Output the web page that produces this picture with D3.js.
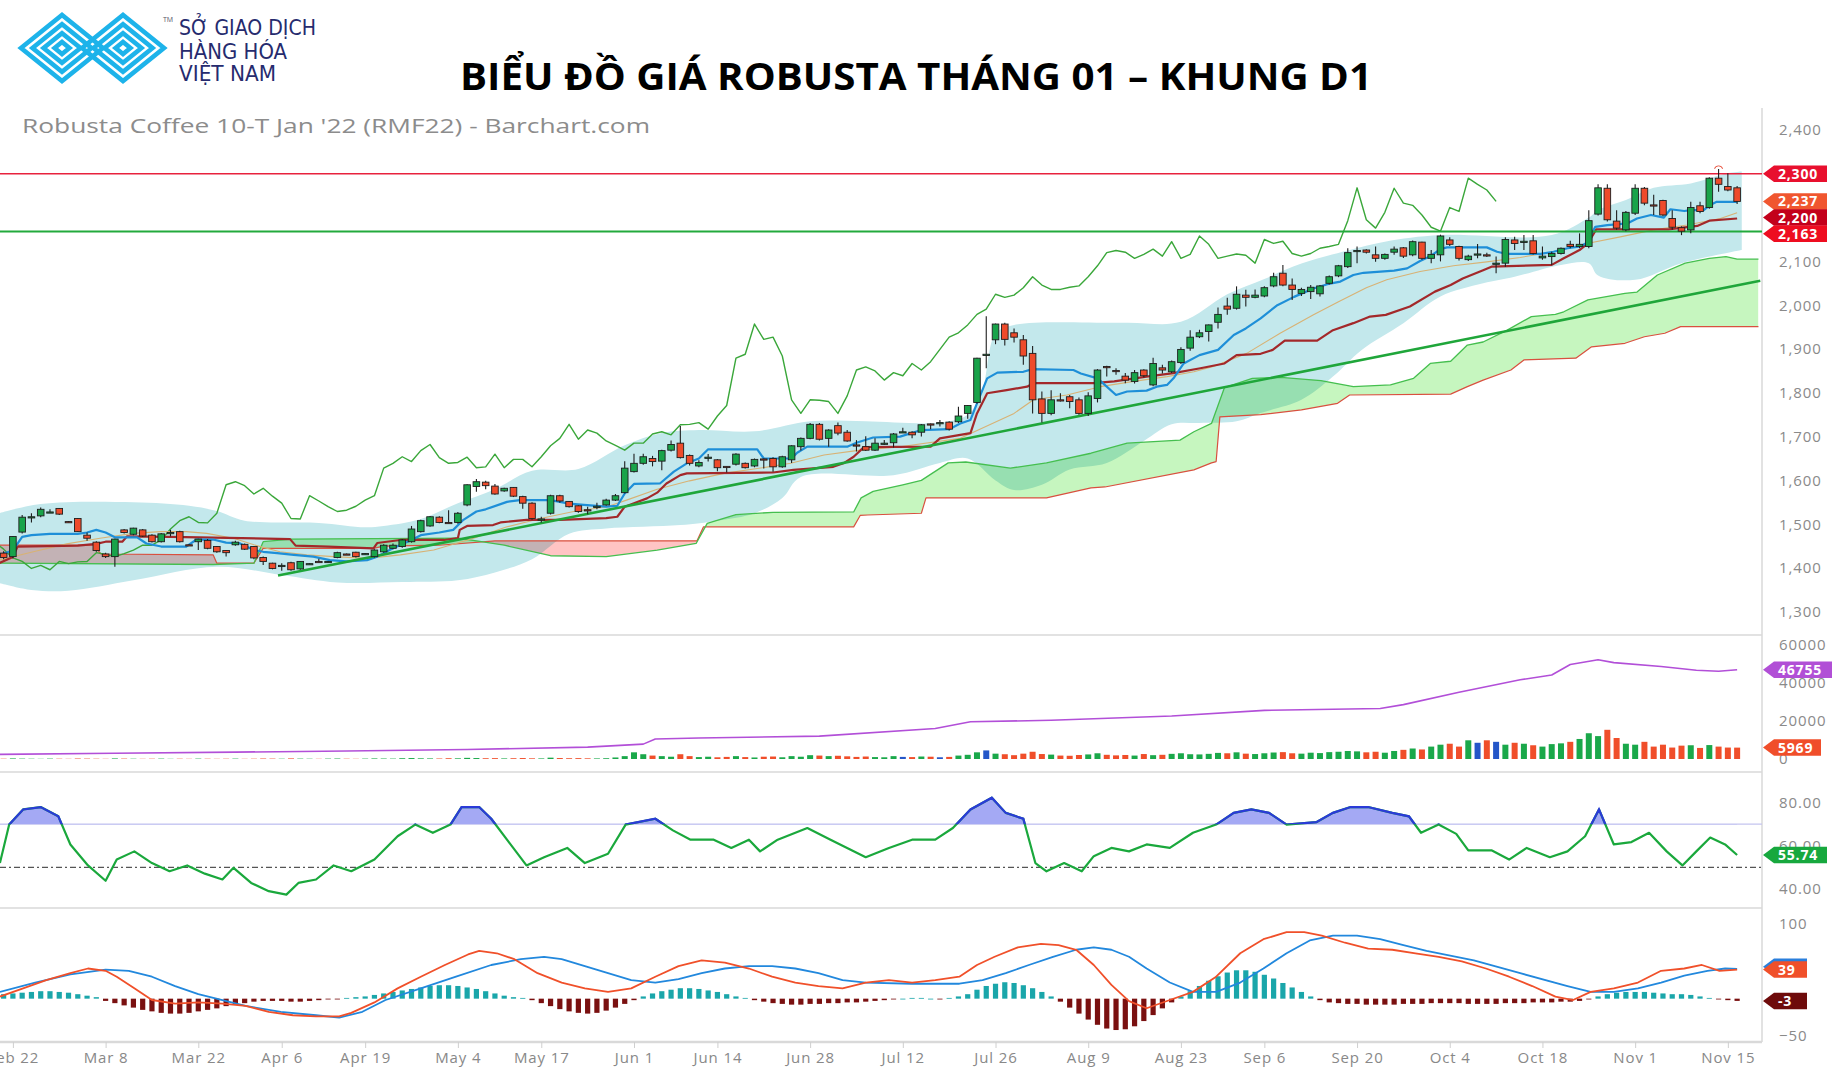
<!DOCTYPE html>
<html><head><meta charset="utf-8">
<script src="https://cdn.jsdelivr.net/npm/d3@7"></script>
<style>html,body{margin:0;padding:0;background:#fff;}svg{display:block;}</style>
</head><body>
<svg id="c" width="1834" height="1070"></svg>
<script>
// ---------------- DATA ----------------
const firstIndex = -1; // index of first candle (trading days from Feb 22)
const tickLabels = ["Feb 22","Mar 8","Mar 22","Apr 6","Apr 19","May 4","May 17","Jun 1","Jun 14","Jun 28","Jul 12","Jul 26","Aug 9","Aug 23","Sep 6","Sep 20","Oct 4","Oct 18","Nov 1","Nov 15"];
const tickIdx = [0,10,20,29,38,48,57,67,76,86,96,106,116,126,135,145,155,165,175,185];
// 2,200 and 2,300 sit under the price tags in the reference
const priceTicks = [1300,1400,1500,1600,1700,1800,1900,2000,2100,2400];

const open = [1434,1426,1482,1516,1519,1527,1536,1506,1513,1475,
1459,1432,1426,1487,1477,1487,1475,1460,1480,1483,
1453,1460,1463,1449,1440,1453,1454,1449,1424,1411,
1405,1412,1398,1409,1415,1414,1424,1432,1436,1432,
1426,1437,1445,1449,1460,1483,1496,1516,1504,1504,
1544,1586,1596,1587,1576,1584,1563,1548,1511,1525,
1565,1552,1542,1533,1540,1544,1555,1572,1620,1639,
1650,1644,1669,1685,1657,1633,1652,1647,1632,1637,
1639,1633,1649,1650,1631,1647,1677,1696,1728,1696,
1725,1710,1681,1677,1669,1684,1686,1711,1710,1710,
1729,1732,1733,1734,1753,1778,1888,1921,1957,1937,
1921,1890,1786,1753,1784,1791,1784,1753,1787,1860,
1851,1838,1826,1852,1818,1857,1848,1869,1902,1928,
1940,1961,1998,1993,2023,2018,2021,2044,2073,2046,
2027,2031,2026,2050,2067,2088,2124,2126,2115,2107,
2121,2131,2115,2144,2107,2115,2149,2134,2104,2117,
2115,2096,2096,2149,2145,2147,2108,2111,2118,2139,
2134,2134,2208,2267,2192,2172,2210,2267,2229,2239,
2198,2177,2172,2227,2223,2290,2271,2268];
const high = [1438,1473,1521,1525,1538,1534,1537,1507,1514,1481,
1461,1435,1467,1489,1492,1489,1477,1480,1487,1485,
1455,1467,1466,1450,1441,1462,1456,1450,1426,1412,
1411,1414,1416,1411,1421,1416,1437,1433,1437,1434,
1443,1454,1456,1466,1496,1510,1519,1518,1532,1528,
1591,1603,1599,1592,1583,1585,1565,1550,1517,1567,
1567,1553,1543,1540,1549,1558,1569,1644,1661,1661,
1656,1670,1691,1724,1659,1646,1660,1649,1632,1662,
1641,1650,1650,1653,1656,1680,1698,1731,1731,1717,
1732,1715,1692,1701,1696,1692,1708,1720,1712,1729,
1730,1738,1735,1768,1772,1880,1975,1958,1960,1947,
1932,1907,1803,1806,1799,1795,1789,1801,1854,1862,
1856,1845,1852,1854,1880,1864,1874,1904,1943,1944,
1956,1995,2017,2043,2035,2036,2043,2074,2092,2061,
2040,2046,2046,2068,2092,2130,2134,2128,2134,2118,
2134,2133,2148,2145,2126,2161,2155,2136,2115,2140,
2120,2111,2155,2156,2160,2160,2134,2122,2132,2147,
2164,2217,2276,2276,2217,2215,2276,2270,2252,2241,
2217,2180,2236,2236,2292,2311,2301,2272];
const low = [1420,1422,1479,1504,1516,1526,1521,1504,1482,1462,
1437,1423,1403,1479,1475,1471,1458,1458,1472,1458,
1451,1441,1443,1435,1426,1451,1441,1420,1407,1397,
1394,1394,1396,1408,1413,1412,1422,1430,1424,1431,
1424,1435,1443,1446,1458,1481,1494,1502,1502,1501,
1541,1574,1580,1567,1574,1562,1535,1510,1504,1522,
1549,1538,1526,1523,1534,1542,1553,1570,1618,1636,
1632,1623,1666,1650,1634,1630,1643,1621,1618,1634,
1627,1630,1627,1620,1629,1640,1668,1694,1691,1677,
1703,1688,1666,1667,1667,1681,1675,1709,1696,1700,
1717,1723,1714,1731,1741,1775,1856,1911,1908,1915,
1864,1753,1732,1749,1780,1765,1750,1747,1778,1837,
1841,1822,1821,1835,1815,1844,1845,1866,1896,1925,
1917,1947,1978,1990,1997,2016,2018,2041,2043,2012,
2021,2014,2020,2047,2064,2085,2096,2118,2099,2104,
2115,2108,2112,2104,2096,2100,2135,2102,2101,2107,
2110,2073,2088,2126,2126,2116,2104,2092,2116,2130,
2130,2130,2205,2191,2172,2169,2206,2228,2206,2203,
2172,2160,2164,2210,2220,2259,2260,2231];
const close = [1424,1472,1516,1517,1534,1528,1523,1505,1483,1468,
1440,1426,1466,1481,1491,1473,1460,1478,1481,1460,
1452,1466,1445,1437,1435,1459,1443,1423,1415,1399,
1406,1396,1415,1410,1414,1415,1435,1431,1426,1433,
1441,1452,1452,1464,1489,1508,1517,1504,1503,1525,
1590,1597,1588,1569,1582,1564,1548,1513,1512,1565,
1553,1540,1529,1532,1541,1555,1565,1628,1639,1654,
1643,1668,1682,1652,1639,1641,1653,1629,1631,1660,
1629,1648,1648,1631,1654,1679,1696,1728,1694,1715,
1708,1690,1680,1669,1685,1685,1706,1711,1704,1727,
1728,1732,1717,1747,1771,1879,1888,1957,1922,1927,
1884,1784,1753,1784,1783,1780,1753,1793,1852,1859,
1850,1829,1846,1839,1867,1852,1871,1899,1927,1937,
1955,1979,1991,2025,2018,2023,2040,2065,2046,2036,
2036,2041,2044,2065,2090,2120,2125,2121,2107,2116,
2128,2112,2145,2107,2116,2158,2139,2107,2112,2117,
2114,2096,2150,2141,2146,2118,2112,2118,2130,2134,
2139,2193,2268,2195,2176,2212,2267,2233,2228,2206,
2178,2169,2223,2214,2290,2276,2263,2237];

// Ichimoku lines [index, price]
const tenkan = [[-1.5,1430],[0,1440],[1,1471],[2,1475],[4,1478],[7,1478],[8,1481],[9,1487],[10,1481],[11,1470],[13.4,1470],[14.4,1456],[16,1449],[18.7,1449],[19.8,1465],[21.6,1465],[23,1458],[24.5,1456],[26,1441],[27,1437],[28.5,1434],[30.3,1430],[32.4,1426],[34.2,1418],[36,1415],[38.2,1418],[39.3,1426],[41,1445],[43,1464],[44,1475],[46,1481],[47.5,1487],[48.6,1510],[50,1529],[51,1534],[53.3,1551],[54.7,1555],[58,1555],[59,1551],[60,1547],[61.6,1544],[64,1540],[65.2,1542],[66,1570],[67,1592],[69.8,1593],[71.3,1620],[72.7,1639],[74,1650],[75,1671],[80.3,1671],[81,1650],[84,1650],[84.6,1663],[85.7,1677],[90,1677],[91,1686],[92.8,1698],[95.7,1700],[98,1715],[101,1717],[102.2,1730],[103.3,1738],[104,1776],[105.1,1833],[106.2,1846],[109,1848],[110,1854],[114.4,1852],[115.2,1844],[117,1833],[118,1814],[119,1795],[120.2,1803],[122.3,1805],[123.4,1814],[124.5,1818],[125.2,1833],[126.3,1867],[128,1886],[130,1898],[131.7,1932],[133,1947],[134.6,1970],[136.4,2000],[138.2,2019],[140.3,2038],[141.8,2048],[143.2,2054],[144.6,2069],[145.7,2074],[149,2079],[150.4,2084],[151.8,2101],[152.9,2112],[154,2128],[154.7,2132],[159,2132],[160.1,2122],[161.2,2117],[164.8,2117],[166.2,2122],[167.7,2130],[169.1,2134],[169.8,2143],[170.7,2179],[172,2183],[174.2,2187],[175.2,2198],[176.7,2206],[178.1,2200],[178.8,2219],[180.3,2215],[181,2217],[182.4,2217],[183.1,2229],[183.8,2236],[186,2236]];
const kijun = [[-1.5,1411],[0,1425],[0.5,1449],[7,1451],[9,1455],[10,1460],[11.8,1460],[12.3,1472],[17,1471],[29.9,1466],[30.5,1451],[34,1449],[38.9,1445],[39.3,1457],[41.8,1464],[46.5,1464],[48,1468],[48.2,1487],[49,1496],[51.8,1498],[52.6,1504],[55.4,1510],[59,1510],[64,1514],[65.2,1517],[66,1540],[67,1548],[68.4,1559],[69.5,1572],[70.5,1593],[72,1612],[72.7,1616],[82,1618],[84.2,1624],[88.5,1631],[89.6,1639],[90.7,1654],[91.8,1676],[99,1677],[100,1696],[103.3,1708],[104,1753],[105.1,1799],[107.2,1806],[109.4,1814],[110.1,1822],[116.6,1822],[118.8,1826],[122.3,1837],[125.2,1845],[128.1,1856],[130.7,1867],[132,1886],[134.6,1889],[135.9,1898],[137.2,1919],[140.7,1919],[142.4,1943],[144.6,1959],[146.4,1974],[148.1,1978],[150.7,1997],[153.4,2031],[155.1,2046],[156.4,2061],[158.6,2080],[159.5,2088],[166,2092],[167.3,2107],[169,2126],[169.9,2141],[170.8,2173],[178.6,2173],[181.7,2181],[183,2193],[186,2198]];
const avgLine = [[-1.5,1418],[2.2,1437],[5.8,1455],[9.4,1468],[13,1479],[15.9,1483],[18.7,1483],[20.9,1479],[23.8,1468],[26,1453],[28.8,1437],[31.7,1430],[34.6,1426],[38.2,1422],[41.8,1430],[45.4,1441],[49.7,1468],[53.3,1494],[56.9,1513],[60.5,1529],[64.1,1540],[66.2,1555],[69.5,1580],[73,1599],[76.7,1616],[80.3,1627],[83.9,1639],[87.5,1658],[91,1668],[95.7,1677],[102.2,1696],[108,1753],[110.1,1784],[113.7,1795],[117.3,1814],[120.9,1826],[124.5,1837],[127.4,1848],[129.5,1860],[133.1,1890],[136.7,1936],[140.3,1978],[143,2008],[146,2040],[148.2,2058],[151.8,2077],[155.4,2090],[159,2099],[162.6,2109],[166.2,2122],[169.8,2141],[173.4,2156],[177,2172],[180.6,2183],[184.2,2198],[186,2211]];
const spanA = [[-1.5,1411],[21.6,1408],[26,1411],[27,1460],[30,1466],[48,1468],[50,1462],[53,1452],[58,1428],[64,1426],[69.5,1441],[73.7,1456],[74.9,1502],[78,1522],[82,1527],[90.7,1528],[91.5,1560],[92.8,1575],[96,1590],[98,1600],[100.9,1640],[102.8,1642],[107.6,1628],[111.5,1640],[116.3,1662],[120.2,1685],[125.9,1692],[127.4,1711],[129.3,1730],[130.7,1812],[133.7,1833],[136.8,1835],[141.1,1828],[144.6,1814],[148.6,1818],[151.1,1833],[152.9,1867],[155.1,1872],[156.9,1909],[158.6,1916],[161.2,1943],[163.8,1974],[166.4,1979],[167.3,1985],[169.9,2012],[173.9,2027],[175.2,2030],[177.4,2069],[180.4,2096],[183,2107],[184.8,2111],[186,2105],[188.3,2105]];
const spanB = [[-1.5,1452],[8.7,1452],[9.5,1432],[21.6,1430],[22,1411],[26,1411],[27,1445],[38.9,1445],[40,1450],[46,1452],[52,1462],[73.8,1462],[74.5,1494],[90.7,1494],[91.4,1520],[92.2,1521],[98,1525],[98.5,1560],[111.5,1560],[116.3,1583],[117.8,1585],[127.4,1624],[129.3,1640],[129.8,1643],[130.2,1745],[134.6,1750],[139,1761],[142.9,1776],[144.2,1795],[155.1,1797],[156.9,1814],[158.6,1829],[161.6,1852],[163,1875],[168.6,1879],[170.3,1905],[173.9,1913],[176,1928],[178.2,1936],[179.9,1951],[188.3,1951]];
const chikouShift = 26;
// Bollinger-style band
const bandUpper = [[-1.5,1525],[3,1546],[13,1550],[19,1542],[22,1530],[25,1508],[33,1503],[38,1493],[40,1496],[44,1512],[48,1548],[52,1580],[56,1622],[61,1626],[66,1680],[70,1708],[74,1715],[80,1712],[86,1735],[92,1735],[100,1732],[103,1750],[104.5,1800],[106,1935],[108,1955],[120,1960],[126,1962],[131,2025],[135,2060],[139,2095],[144,2125],[148,2145],[154,2160],[166,2160],[170,2200],[171,2217],[174,2240],[177,2268],[181,2278],[185,2301],[186.5,2305]];
const bandLower = [[-1.5,1366],[2,1350],[6,1348],[13,1372],[22,1403],[29,1384],[35,1367],[42,1368],[48,1372],[52,1390],[56,1420],[60,1478],[64,1490],[72,1498],[76,1508],[80,1525],[83,1560],[85,1608],[95,1612],[100,1640],[103,1650],[106,1600],[108,1578],[111,1590],[114,1625],[118,1640],[122,1690],[125,1728],[128,1731],[132,1735],[134.6,1754],[139,1784],[142.4,1837],[145.5,1898],[150,1959],[154,2020],[158.6,2050],[162,2065],[167,2092],[170,2096],[171,2068],[175,2058],[180,2096],[186.5,2126]];
const trend = [[28.6,1383],[188.5,2056]];
const resistance = 2300, support = 2168;
const highMarker = [184, 2317];
const priceTags = [[2300,"2,300","#e8102e"],[2237,"2,237","#f0562f"],[2200,"2,200","#c3001b"],[2163,"2,163","#ee0d20"]];

// Volume / open interest
const volume = [150,300,200,150,100,200,150,100,250,200,
150,100,300,200,150,100,150,200,100,150,
100,200,150,100,150,200,100,150,250,200,
150,300,200,150,100,200,250,150,100,200,
300,250,200,400,500,350,300,250,400,350,
600,500,400,450,300,400,500,350,300,700,
500,400,450,350,300,400,800,1500,3500,2500,
1800,1500,1200,2500,1500,1000,1200,900,1100,1500,
1000,800,1200,1300,900,1500,1200,2000,1800,1500,
1700,1400,1100,1300,1000,900,1500,1100,1000,1300,
1200,900,1100,1800,2200,3500,4500,2800,2500,2000,
2800,3800,2600,2300,1800,1700,2100,2400,3000,2200,
1900,2100,1800,2600,2000,2200,2700,3000,2500,2400,
2700,3200,3000,3500,2800,2600,3000,3400,3600,3000,
2800,3300,3100,3600,3800,4200,4000,3500,3800,3300,
4200,4800,5500,5000,6500,7500,8000,6500,9800,8500,
9800,9000,7500,8500,8000,7200,6500,7800,8200,9000,
10500,13500,12000,15300,11000,8000,7500,9000,6500,7500,
6000,7000,7200,5800,7300,6500,6000,5969];
const openInterest = [[-1.4,2400],[11,3000],[24,3600],[36,4200],[49,5000],[62,6200],[68,7800],[69.3,10500],[74,11000],[87,12000],[99.5,16000],[103.3,19500],[112,20300],[125,22500],[135,25500],[147.5,26500],[150,28500],[156,35000],[162.6,41500],[166,44000],[168,49500],[171,52000],[172.7,50500],[177.8,48500],[181.6,46500],[184,46000],[186,46755]];
const volTicks = [0,20000,40000,60000];

// RSI
const rsi = [[-1.4,52],[-0.4,69.8],[1.1,76.8],[3,77.9],[4.9,73.6],[6.2,60.6],[8.1,50.9],[10,43.8],[11.2,53.6],[13.1,57.4],[15,52],[16.9,48.2],[18.8,50.9],[20.7,47.1],[22.6,44.4],[23.8,49.8],[25.7,42.8],[27.6,39],[29.5,37.4],[30.8,42.8],[32.7,44.4],[34.6,50.9],[36.5,48.2],[39,53.6],[41.5,64.4],[43.4,69.8],[45.3,66],[47.2,69.8],[48.4,77.9],[50.3,77.9],[51.6,72.5],[53.5,61.7],[55.4,50.9],[57.3,54.7],[59.8,59],[61.7,52],[64.2,56.3],[66.1,69.8],[69.3,72.5],[71.2,67.1],[73.1,62.8],[75.6,62.8],[77.5,59],[79.4,62.8],[80.6,57.4],[82.5,62.8],[85.7,68.2],[88.2,62.8],[92,54.7],[94.5,59],[97,62.8],[99.5,62.8],[101.4,68.2],[103.3,76.8],[105.6,82.2],[107.1,75.2],[109,72.5],[110.3,52],[111.5,48.2],[113.4,52],[115.3,48.2],[116.6,55.2],[118.5,59],[120.4,57.4],[122.3,60.6],[124.8,59],[127.3,66],[129.8,69.8],[131.7,75.2],[133.6,76.8],[135.5,75.2],[137.4,69.8],[140.6,70.9],[142.4,75.2],[144.3,77.9],[146.2,77.9],[148.8,75.2],[150.6,73.6],[151.9,66],[153.8,69.8],[155.7,65.5],[157,57.9],[159.5,57.9],[161.4,53.6],[163.3,59],[165.8,54.7],[167.7,57.4],[169.6,64.4],[171.1,76.8],[172.7,60.6],[174.6,61.7],[176.5,66],[178.4,57.4],[180.1,50.9],[181.6,57.4],[183.1,63.8],[184.7,60.6],[186,55.74]];
const rsiTicks = [40,60,80];

// MACD
const macd = [[-1.4,2.8],[1.1,13.8],[3.6,24.7],[6.2,34.1],[8.1,40.4],[10,37.3],[11.2,29.4],[13.1,13.8],[15,-1.8],[17.5,-6.6],[20,-5],[22.6,-6.6],[25.1,-9.7],[27.6,-17.6],[30.2,-22.2],[32.7,-23.8],[35.2,-23.8],[36.5,-19.1],[39,-5],[41.5,13.8],[44,29.4],[46.6,45.1],[49.1,59.2],[50.3,63.9],[52.2,60.8],[54.1,52.9],[56.6,34.1],[59.2,21.6],[61.7,13.8],[64.2,9.1],[66.7,13.8],[69.3,29.4],[71.8,43.5],[74.3,51.4],[76.8,48.2],[79.4,40.4],[81.9,29.4],[84.4,21.6],[86.9,16.9],[89.5,13.8],[92,21.6],[94.5,24.7],[97,21.6],[99.5,24.7],[102.1,29.4],[104,45.1],[105.9,56.1],[108.4,68.6],[110.9,73.3],[112.8,71.7],[114.7,65.5],[116.6,45.1],[118.5,18.5],[120.4,-3.4],[122.3,-12.8],[124.8,-1.8],[127.3,9.1],[129.8,29.4],[132.4,60.8],[134.9,79.6],[137.4,89],[139.3,89],[141.2,84.3],[143.7,74.9],[146.2,67],[148.8,65.5],[151.3,60.8],[153.8,56.1],[156.3,49.8],[158.9,40.4],[161.4,29.4],[163.9,16.9],[166.4,2.8],[168.3,-1.8],[170.2,9.1],[172.7,13.8],[175.3,21.6],[177.8,37.3],[180.3,40.4],[182.2,45.1],[184.1,37.3],[186,39]];
const signal = [[-1.4,9.1],[2.4,21.6],[6.2,32.6],[10,38.8],[12.5,37.3],[15,29.4],[17.5,16.9],[20,6],[22.6,-1.8],[25.1,-9.7],[28.9,-17.6],[32.7,-22.2],[35.2,-25.3],[37.7,-17.6],[40.2,-1.8],[44,13.8],[47.8,29.4],[51.6,45.1],[54.8,52.9],[57.3,56.1],[59.2,52.9],[61.7,43.5],[64.2,34.1],[66.7,24.7],[69.3,21.6],[71.8,26.3],[74.3,34.1],[76.8,40.4],[79.4,43.5],[81.9,43.5],[84.4,40.4],[86.9,34.1],[89.5,24.7],[92,21.6],[97,20],[102.1,20],[104.6,24.7],[107.1,34.1],[109.6,45.1],[112.2,56.1],[114.7,65.5],[116.6,68.6],[118.5,65.5],[120.4,56.1],[122.3,40.4],[124.8,21.6],[127.3,9.1],[129.8,9.1],[132.4,21.6],[134.9,40.4],[137.4,60.8],[139.9,78],[142.4,84.3],[145,84.3],[147.5,79.6],[150,71.7],[152.5,63.9],[157.6,51.4],[162.6,34.1],[167.7,16.9],[170.2,9.1],[172.7,9.1],[175.3,13.8],[177.8,21.6],[180.3,31],[182.8,37.3],[184.7,40.4],[186,40]];
const histogram = [6,7,8,9,10,10,9,8,6,4,
2,-3,-6,-9,-12,-15,-17,-19,-20,-20,
-19,-17,-15,-13,-10,-8,-6,-4,-3,-3,
-3,-4,-4,-3,-2,-1,-1,1,2,3,
5,7,9,11,13,15,17,18,18,17,
15,13,10,7,4,2,1,-2,-6,-10,
-14,-17,-19,-20,-19,-16,-12,-7,-2,3,
7,10,12,14,14,13,11,9,6,3,
1,-2,-4,-6,-7,-8,-8,-7,-7,-6,
-6,-5,-5,-4,-3,-2,-1,0,1,1,
0,-1,1,3,6,12,17,20,22,21,
18,14,9,3,-4,-12,-20,-28,-35,-40,
-42,-41,-37,-30,-22,-13,-5,3,10,17,
24,30,35,38,38,36,32,27,21,15,
9,3,-2,-5,-6,-7,-7,-8,-8,-8,
-8,-7,-7,-7,-6,-6,-6,-6,-7,-7,
-7,-7,-6,-6,-6,-5,-5,-5,-4,-4,
-3,-1,3,6,8,9,9,9,8,7,
6,6,5,3,1,-1,-2,-3];
const macdTicks = [-50,100];

// ---------------- CHART ----------------
const svg = d3.select('#c');
const defs = svg.append('defs');
const PR = 1762;
const x = d3.scaleLinear().domain([0,1]).range([12.9,22.17]);
const yP = d3.scaleLinear().domain([1300,2400]).range([611.8,130]);
const yV = d3.scaleLinear().domain([0,60000]).range([759,644.5]);
const yR = d3.scaleLinear().domain([40,80]).range([889,802.5]);
const yM = d3.scaleLinear().domain([-50,100]).range([1036,924]);
const FONT = "'Open Sans','Noto Sans',sans-serif";

function clipRect(id,x0,y0,w,h){defs.append('clipPath').attr('id',id).append('rect').attr('x',x0).attr('y',y0).attr('width',w).attr('height',h);}
clipRect('cMain',0,108,PR,526);
clipRect('cVol',0,636,PR,135);
clipRect('cRsi',0,773,PR,134);
clipRect('cMacd',0,909,PR,132);
clipRect('rsiAbove',0,773,PR,yR(70)-773);

// ---- Logo ----
const logo = svg.append('g');
const lc = '#1db3ea';
[[62,48],[123,48]].forEach(([cx,cy])=>{
  [1,0.72,0.45,0.18].forEach(s=>{
    const rx=41*s, ry=33*s;
    logo.append('path').attr('d',`M${cx-rx},${cy} L${cx},${cy-ry} L${cx+rx},${cy} L${cx},${cy+ry} Z`)
      .attr('fill','none').attr('stroke',lc).attr('stroke-width',4.6).attr('stroke-linejoin','miter');
  });
});
logo.append('text').attr('x',163).attr('y',22).attr('font-size',7).attr('fill','#556').attr('font-family',FONT).text('TM');
const lf = "'Liberation Sans Narrow','DejaVu Sans Condensed','Roboto',sans-serif";
[["SỞ GIAO DỊCH",35,137],["HÀNG HÓA",58.5,108],["VIỆT NAM",81,97]].forEach(([t,yy,w])=>{
  logo.append('text').attr('x',179).attr('y',yy).attr('font-size',21).attr('font-family',lf)
    .attr('fill','#262b6e').attr('textLength',w).attr('lengthAdjust','spacingAndGlyphs').text(t);
});

// ---- Titles ----
svg.append('text').attr('x',460).attr('y',90).attr('font-family',FONT).attr('font-weight',700)
  .attr('font-size',38).attr('fill','#000').attr('textLength',912).attr('lengthAdjust','spacingAndGlyphs')
  .text('BIỂU ĐỒ GIÁ ROBUSTA THÁNG 01 – KHUNG D1');
svg.append('text').attr('x',22).attr('y',133).attr('font-family',FONT).attr('font-size',20)
  .attr('fill','#8c8c8c').attr('textLength',628).attr('lengthAdjust','spacingAndGlyphs')
  .text("Robusta Coffee 10-T Jan '22 (RMF22) - Barchart.com");

// ---- Frame ----
const frame = svg.append('g').attr('stroke','#d9d9d9').attr('stroke-width',1.5);
[635,772,908].forEach(yy=>frame.append('line').attr('x1',0).attr('x2',PR).attr('y1',yy).attr('y2',yy));
frame.append('line').attr('x1',PR).attr('x2',PR).attr('y1',108).attr('y2',1042);
frame.append('line').attr('x1',0).attr('x2',PR).attr('y1',1042).attr('y2',1042).attr('stroke-width',2.5);

const px = d=>x(d[0]);

// ---- Main panel ----
const gMain = svg.append('g').attr('clip-path','url(#cMain)');
const lineCR = yS => d3.line().x(px).y(d=>yS(d[1])).curve(d3.curveCatmullRom);
const bandPath = lineCR(yP)(bandUpper) + lineCR(yP)(bandLower.slice().reverse()).replace(/^M/,'L') + 'Z';
gMain.append('path').attr('d',bandPath).attr('fill','#c3e8ec');

const areaBelow = arr => d3.area().x(px).y0(700).y1(d=>yP(d[1]))(arr);
const areaAbove = arr => d3.area().x(px).y0(60).y1(d=>yP(d[1]))(arr);
defs.append('clipPath').attr('id','aboveB').append('path').attr('d',areaAbove(spanB));
defs.append('clipPath').attr('id','aboveA').append('path').attr('d',areaAbove(spanA));
const gCloud = gMain.append('g').style('mix-blend-mode','multiply');
gCloud.append('path').attr('d',areaBelow(spanA)).attr('clip-path','url(#aboveB)').attr('fill','#c6f6bf');
gCloud.append('path').attr('d',areaBelow(spanB)).attr('clip-path','url(#aboveA)').attr('fill','#ffc4c4');

const lineP = d3.line().x(px).y(d=>yP(d[1]));
function drawLine(g,data,line,color,w){g.append('path').attr('d',line(data)).attr('fill','none').attr('stroke',color).attr('stroke-width',w).attr('stroke-linejoin','round');}
drawLine(gMain,spanB,lineP,'#d9503f',1.2);
drawLine(gMain,spanA,lineP,'#45bf4f',1.3);
const chikou = close.map((c,k)=>[k+firstIndex-chikouShift,c]);
drawLine(gMain,chikou,lineP,'#3aa73a',1.4);
drawLine(gMain,avgLine,lineP,'#d8b274',1.1);
drawLine(gMain,kijun,lineP,'#a3282a',2.2);
drawLine(gMain,tenkan,lineP,'#1e8fd8',2.2);

gMain.append('line').attr('x1',0).attr('x2',PR).attr('y1',yP(resistance)).attr('y2',yP(resistance)).attr('stroke','#e8223e').attr('stroke-width',1.6);
gMain.append('line').attr('x1',0).attr('x2',PR).attr('y1',yP(support)).attr('y2',yP(support)).attr('stroke','#22aa3c').attr('stroke-width',2);
drawLine(gMain,trend,lineP,'#1fa63a',2.6);

const candles = open.map((o,k)=>({i:k+firstIndex,o,h:high[k],l:low[k],c:close[k]}));
const gC = gMain.append('g');
gC.selectAll('line').data(candles).join('line')
  .attr('x1',d=>x(d.i)).attr('x2',d=>x(d.i)).attr('y1',d=>yP(d.h)).attr('y2',d=>yP(d.l))
  .attr('stroke','#1e1e1e').attr('stroke-width',1.1);
gC.selectAll('rect').data(candles).join('rect')
  .attr('x',d=>x(d.i)-3.3).attr('width',6.6)
  .attr('y',d=>yP(Math.max(d.o,d.c))).attr('height',d=>Math.max(1.2,Math.abs(yP(d.o)-yP(d.c))))
  .attr('fill',d=>d.c>=d.o?'#19a34a':'#ee4b2b').attr('stroke','#1e1e1e').attr('stroke-width',0.9);
gMain.append('path').attr('d',d3.arc()({innerRadius:4,outerRadius:4.8,startAngle:-1.2,endAngle:1.2}))
  .attr('transform',`translate(${x(highMarker[0])},${yP(highMarker[1])+4})`).attr('fill','#e8503c');

// right axes
function rightAxis(scale,ticks,fmt){
  const g = svg.append('g').attr('transform',`translate(${PR},0)`)
    .call(d3.axisRight(scale).tickValues(ticks).tickFormat(fmt).tickSize(0).tickPadding(17));
  g.select('.domain').remove();
  g.selectAll('text').attr('font-family',FONT).attr('font-size',15).attr('letter-spacing','0.9px').attr('fill','#8a8a8a');
  return g;
}
rightAxis(yP,priceTicks,d3.format(','));
rightAxis(yV,volTicks,d3.format('d'));
rightAxis(yR,rsiTicks,d3.format('.2f'));
rightAxis(yM,macdTicks,d3.format('d'));

function tag(yv,text,color,w){
  const x0=PR+1,h=16.5;
  const g=svg.append('g');
  g.append('path').attr('d',`M${x0},${yv} L${x0+11},${yv-h/2} L${x0+w},${yv-h/2} L${x0+w},${yv+h/2} L${x0+11},${yv+h/2} Z`).attr('fill',color);
  g.append('text').attr('x',x0+15).attr('y',yv).attr('dy','0.36em').attr('font-family',FONT).attr('font-weight',700)
    .attr('font-size',14).attr('letter-spacing','0.8px').attr('fill','#fff').text(text);
}
priceTags.forEach(([v,t,c])=>tag(yP(v),t,c,64));

// ---- Volume panel ----
const volColor = d => d.c>d.o ? '#1aa84a' : (d.c<d.o ? '#f04e2a' : '#2456c8');
const gV = svg.append('g').attr('clip-path','url(#cVol)');
gV.selectAll('rect').data(candles).join('rect')
  .attr('x',d=>x(d.i)-3).attr('width',6)
  .attr('y',(d,k)=>yV(volume[k])).attr('height',(d,k)=>yV(0)-yV(volume[k]))
  .attr('fill',volColor);
drawLine(gV,openInterest,d3.line().x(px).y(d=>yV(d[1])),'#b24fd8',1.6);
tag(yV(openInterest[openInterest.length-1][1]),'46755','#b14fd6',69);
tag(yV(volume[volume.length-1]),'5969','#f04e2a',58);

// ---- RSI panel ----
const gR = svg.append('g').attr('clip-path','url(#cRsi)');
gR.append('line').attr('x1',0).attr('x2',PR).attr('y1',yR(70)).attr('y2',yR(70)).attr('stroke','#c4c4ef').attr('stroke-width',1.2);
gR.append('line').attr('x1',0).attr('x2',PR).attr('y1',yR(50)).attr('y2',yR(50)).attr('stroke','#555').attr('stroke-width',1.1).attr('stroke-dasharray','6,3,2,3');
const lineR = d3.line().x(px).y(d=>yR(d[1]));
gR.append('path').attr('d',d3.area().x(px).y0(yR(70)).y1(d=>yR(d[1]))(rsi)).attr('clip-path','url(#rsiAbove)').attr('fill','#a4a9f4');
drawLine(gR,rsi,lineR,'#1aa83c',2.2);
gR.append('path').attr('d',lineR(rsi)).attr('clip-path','url(#rsiAbove)').attr('fill','none').attr('stroke','#2a3ad8').attr('stroke-width',2.2);
tag(yR(rsi[rsi.length-1][1]),'55.74','#17a83e',64);

// ---- MACD panel ----
const gM = svg.append('g').attr('clip-path','url(#cMacd)');
gM.selectAll('rect').data(candles).join('rect')
  .attr('x',d=>x(d.i)-2.6).attr('width',5.2)
  .attr('y',(d,k)=>Math.min(yM(0),yM(histogram[k]))).attr('height',(d,k)=>Math.max(0.8,Math.abs(yM(histogram[k])-yM(0))))
  .attr('fill',(d,k)=>histogram[k]>=0?'#1aa6aa':'#7a1010');
const lineM = d3.line().x(px).y(d=>yM(d[1]));
drawLine(gM,signal,lineM,'#2288dd',1.8);
drawLine(gM,macd,lineM,'#f0502a',1.8);
tag(yM(signal[signal.length-1][1])-2,'','#2a7fdc',44);
tag(yM(macd[macd.length-1][1]),'39','#f0502a',44);
tag(yM(histogram[histogram.length-1]),'-3','#6e0b0b',44);

// ---- X axis ----
const gx = svg.append('g').attr('transform','translate(0,1042)')
  .call(d3.axisBottom(x).tickValues(tickIdx).tickFormat((d,k)=>tickLabels[k]).tickSize(6).tickPadding(4));
gx.select('.domain').remove();
gx.selectAll('line').attr('stroke','#cfcfcf');
gx.selectAll('text').attr('font-family',FONT).attr('font-size',15).attr('letter-spacing','0.9px').attr('fill','#888');
</script>
</body></html>
